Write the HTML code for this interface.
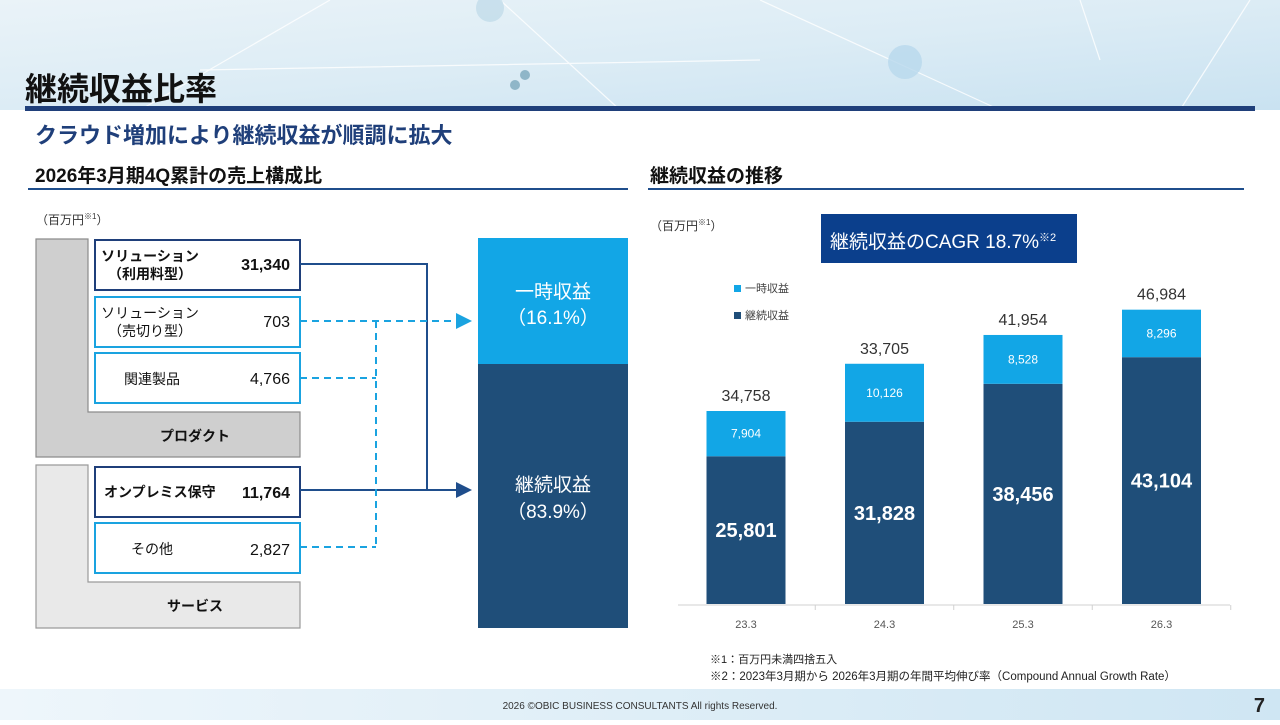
<!DOCTYPE html>
<html><head><meta charset="utf-8">
<style>
body{margin:0;width:1280px;height:720px;overflow:hidden;background:#fff;font-family:"Liberation Sans","Noto Sans CJK JP",sans-serif;}
svg text{font-family:"Liberation Sans","Noto Sans CJK JP",sans-serif;}
</style></head>
<body>
<svg width="1280" height="720" viewBox="0 0 1280 720" xmlns="http://www.w3.org/2000/svg">
<defs>
<linearGradient id="hdr" x1="0" y1="0" x2="1" y2="1">
<stop offset="0" stop-color="#eaf3f8"/><stop offset="0.5" stop-color="#dcecf5"/><stop offset="1" stop-color="#c9e2f1"/>
</linearGradient>
<linearGradient id="ftr" x1="0" y1="0" x2="1" y2="0">
<stop offset="0" stop-color="#eef6fb"/><stop offset="1" stop-color="#cfe6f3"/>
</linearGradient>
<marker id="arrD" markerWidth="8" markerHeight="8" refX="7" refY="4" orient="auto"><path d="M0,0 L8,4 L0,8z" fill="#1f4e8c"/></marker>
<marker id="arrL" markerWidth="8" markerHeight="8" refX="7" refY="4" orient="auto"><path d="M0,0 L8,4 L0,8z" fill="#1aa3e0"/></marker>
</defs>
<!-- header -->
<rect x="0" y="0" width="1280" height="110" fill="url(#hdr)"/>
<g stroke="#ffffff" stroke-width="1.2" opacity="0.8" fill="none">
<path d="M140 110 L330 0 M200 70 L760 60 M500 0 L620 110 M760 0 L1000 110 M1080 0 L1100 60 M1250 0 L1180 110"/>
</g>
<circle cx="490" cy="8" r="14" fill="#c2dcea" opacity="0.8"/>
<circle cx="905" cy="62" r="17" fill="#b8d8ec" opacity="0.8"/>
<circle cx="525" cy="75" r="5" fill="#8fb6c8"/><circle cx="515" cy="85" r="5" fill="#8fb6c8"/>
<text x="25" y="100" font-size="32" font-weight="bold" fill="#111">継続収益比率</text>
<rect x="25" y="106" width="1230" height="5" fill="#1f3f7a"/>
<text x="35" y="143" font-size="22" font-weight="bold" fill="#1f3f7a">クラウド増加により継続収益が順調に拡大</text>
<text x="35" y="182" font-size="19" font-weight="bold" fill="#111">2026年3月期4Q累計の売上構成比</text>
<rect x="28" y="188" width="600" height="2" fill="#1f4e8c"/>
<text x="650" y="182" font-size="19" font-weight="bold" fill="#111">継続収益の推移</text>
<rect x="648" y="188" width="596" height="2" fill="#1f4e8c"/>
<text x="36" y="224" font-size="12" fill="#333">（百万円<tspan font-size="8" dy="-5">※1</tspan><tspan dy="5">）</tspan></text>
<text x="650" y="230" font-size="12" fill="#333">（百万円<tspan font-size="8" dy="-5">※1</tspan><tspan dy="5">）</tspan></text>

<!-- left diagram -->
<path d="M36 239 H88 V412 H300 V457 H36 Z" fill="#cfcfcf" stroke="#8c8c8c" stroke-width="1.2"/>
<text x="195" y="441" font-size="14" font-weight="bold" text-anchor="middle" fill="#111">プロダクト</text>
<path d="M36 465 H88 V582 H300 V628 H36 Z" fill="#e9e9e9" stroke="#9a9a9a" stroke-width="1.2"/>
<text x="195" y="611" font-size="14" font-weight="bold" text-anchor="middle" fill="#111">サービス</text>

<rect x="95" y="240" width="205" height="50" fill="#fff" stroke="#1f3f7a" stroke-width="2"/>
<text x="150" y="261" font-size="14" font-weight="bold" text-anchor="middle" fill="#111">ソリューション</text>
<text x="150" y="279" font-size="14" font-weight="bold" text-anchor="middle" fill="#111">（利用料型）</text>
<text x="290" y="270" font-size="16" font-weight="bold" text-anchor="end" fill="#111">31,340</text>

<rect x="95" y="297" width="205" height="50" fill="#fff" stroke="#1aa3e0" stroke-width="2"/>
<text x="150" y="318" font-size="14" text-anchor="middle" fill="#111">ソリューション</text>
<text x="150" y="336" font-size="14" text-anchor="middle" fill="#111">（売切り型）</text>
<text x="290" y="327" font-size="16" text-anchor="end" fill="#111">703</text>

<rect x="95" y="353" width="205" height="50" fill="#fff" stroke="#1aa3e0" stroke-width="2"/>
<text x="152" y="384" font-size="14" text-anchor="middle" fill="#111">関連製品</text>
<text x="290" y="384" font-size="16" text-anchor="end" fill="#111">4,766</text>

<rect x="95" y="467" width="205" height="50" fill="#fff" stroke="#1f3f7a" stroke-width="2"/>
<text x="104" y="497" font-size="14" font-weight="bold" fill="#111">オンプレミス保守</text>
<text x="290" y="498" font-size="16" font-weight="bold" text-anchor="end" fill="#111">11,764</text>

<rect x="95" y="523" width="205" height="50" fill="#fff" stroke="#1aa3e0" stroke-width="2"/>
<text x="152" y="554" font-size="14" text-anchor="middle" fill="#111">その他</text>
<text x="290" y="555" font-size="16" text-anchor="end" fill="#111">2,827</text>

<!-- connectors -->
<path d="M300 264 H427 V490" fill="none" stroke="#1f4e8c" stroke-width="2"/>
<path d="M300 490 H470" fill="none" stroke="#1f4e8c" stroke-width="2" marker-end="url(#arrD)"/>
<path d="M300 321 H470" fill="none" stroke="#1aa3e0" stroke-width="2" stroke-dasharray="7,5" marker-end="url(#arrL)"/>
<path d="M300 378 H376 M376 321 V547 M300 547 H376" fill="none" stroke="#1aa3e0" stroke-width="2" stroke-dasharray="7,5"/>

<!-- ratio bar -->
<rect x="478" y="238" width="150" height="126" fill="#12a6e6"/>
<rect x="478" y="364" width="150" height="264" fill="#1f4e79"/>
<text x="553" y="298" font-size="19" text-anchor="middle" fill="#fff">一時収益</text>
<text x="553" y="324" font-size="19" text-anchor="middle" fill="#fff">（16.1%）</text>
<text x="553" y="491" font-size="19" text-anchor="middle" fill="#fff">継続収益</text>
<text x="553" y="518" font-size="19" text-anchor="middle" fill="#fff">（83.9%）</text>

<!-- CAGR box -->
<rect x="821" y="214" width="256" height="49" fill="#0b3f8c"/>
<text x="830" y="248" font-size="19" fill="#fff">継続収益のCAGR 18.7%<tspan font-size="11" dy="-7">※2</tspan></text>

<!-- legend -->
<rect x="734" y="285" width="7" height="7" fill="#12a6e6"/>
<text x="745" y="292" font-size="11" fill="#444">一時収益</text>
<rect x="734" y="312" width="7" height="7" fill="#1f4e79"/>
<text x="745" y="319" font-size="11" fill="#444">継続収益</text>

<line x1="678" y1="605" x2="1230" y2="605" stroke="#d0d0d0" stroke-width="1"/>
<g id="chart"></g>

<text x="710" y="663" font-size="11" fill="#222">※1：百万円未満四捨五入</text>
<text x="710" y="680" font-size="11.5" fill="#222">※2：2023年3月期から 2026年3月期の年間平均伸び率（Compound Annual Growth Rate）</text>

<rect x="0" y="689" width="1280" height="31" fill="url(#ftr)"/>
<text x="640" y="709" font-size="10" text-anchor="middle" fill="#333">2026 ©OBIC BUSINESS CONSULTANTS All rights Reserved.</text>
<text x="1265" y="712" font-size="20" font-weight="bold" text-anchor="end" fill="#222">7</text>
</svg>
<script>
const categories = ["23.3","24.3","25.3","26.3"];
const recurring = [25801, 31828, 38456, 43104];
const onetime = [7904, 10126, 8528, 8296];
const totalLabels = ["34,758","33,705","41,954","46,984"];
const recurringLabels = ["25,801","31,828","38,456","43,104"];
const onetimeLabels = ["7,904","10,126","8,528","8,296"];

const NS = "http://www.w3.org/2000/svg";
const g = document.getElementById("chart");
const baseY = 604, scale = 193/33705, x0 = 746, step = 138.5, bw = 79;
function xc(i){ return x0 + i*step; }
function yv(v){ return baseY - v*scale; }
function mk(tag, attrs, txt){
  const e = document.createElementNS(NS, tag);
  for (const k in attrs) e.setAttribute(k, attrs[k]);
  if (txt !== undefined) e.textContent = txt;
  g.appendChild(e); return e;
}
categories.forEach((c, i) => {
  const cx = xc(i);
  const yr = yv(recurring[i]);
  const yt = yv(recurring[i] + onetime[i]);
  const r = mk("rect", {x: cx-bw/2, y: yr, width: bw, height: baseY-yr, fill: "#1f4e79"});
  
  
  const o = mk("rect", {x: cx-bw/2, y: yt, width: bw, height: yr-yt, fill: "#12a6e6"});
  
  
  const t1 = mk("text", {x: cx, y: (yr+baseY)/2 + 7, "font-size": 20, "font-weight": "bold", "text-anchor": "middle", fill: "#fff"}, recurringLabels[i]);
  
  
  const t2 = mk("text", {x: cx, y: (yt+yr)/2 + 4, "font-size": 12, "text-anchor": "middle", fill: "#fff"}, onetimeLabels[i]);
  
  
  const t3 = mk("text", {x: cx, y: yt - 10, "font-size": 16, "text-anchor": "middle", fill: "#333"}, totalLabels[i]);
  
  
  const t4 = mk("text", {x: cx, y: 628, "font-size": 11, "text-anchor": "middle", fill: "#555"}, c);
  
  
  const tk = mk("line", {x1: cx+step/2, y1: 605, x2: cx+step/2, y2: 610, stroke: "#d0d0d0"});
  
  
});
</script>
</body></html>
